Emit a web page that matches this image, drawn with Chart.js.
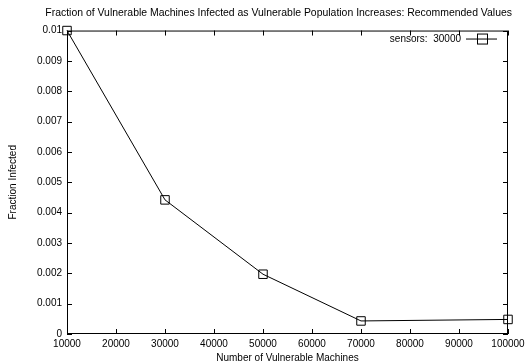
<!DOCTYPE html>
<html><head><meta charset="utf-8">
<script src="https://cdn.jsdelivr.net/npm/chart.js@4/dist/chart.umd.min.js"></script>
<style>html,body{margin:0;padding:0;background:#fff}#c{display:block}</style>
</head><body>
<canvas id="c" width="526" height="364"></canvas>
<script>
const machines = [10000, 30000, 50000, 70000, 100000];
const fractionInfected = [0.01, 0.00442, 0.00197, 0.00043, 0.00048];
const seriesLabel = 'sensors:  30000';
const titleText = 'Fraction of Vulnerable Machines Infected as Vulnerable Population Increases: Recommended Values';
const xTitle = 'Number of Vulnerable Machines';
const yTitle = 'Fraction Infected';

const FONT = 'Liberation Sans, Arial, Helvetica, sans-serif';

const gnuplotFrame = {
  id: 'gnuplotFrame',
  afterDatasetsDraw(chart) {
    const {ctx, chartArea: a, scales: {x, y}} = chart;
    ctx.save();
    ctx.strokeStyle = '#000';
    ctx.lineWidth = 1;
    ctx.strokeRect(a.left + 0.5, a.top + 0.5, a.right - a.left - 1, a.bottom - a.top - 1);
    const L = 5;
    ctx.beginPath();
    x.ticks.forEach(t => {
      const px = Math.round(x.getPixelForValue(t.value)) + 0.5;
      ctx.moveTo(px, a.bottom); ctx.lineTo(px, a.bottom - L);
      ctx.moveTo(px, a.top); ctx.lineTo(px, a.top + L);
    });
    y.ticks.forEach(t => {
      const py = Math.round(y.getPixelForValue(t.value)) + 0.5;
      ctx.moveTo(a.left, py); ctx.lineTo(a.left + L, py);
      ctx.moveTo(a.right, py); ctx.lineTo(a.right - L, py);
    });
    ctx.stroke();
    // legend
    const ly = a.top + 8.5;
    const lx2 = a.right - 11, lx1 = lx2 - 31;
    ctx.font = '10px ' + FONT;
    ctx.fillStyle = '#000';
    ctx.textAlign = 'right';
    ctx.textBaseline = 'middle';
    ctx.fillText(seriesLabel, lx1 - 5, ly);
    ctx.beginPath();
    ctx.moveTo(lx1, ly); ctx.lineTo(lx2, ly);
    ctx.stroke();
    const cx = Math.round((lx1 + lx2) / 2);
    ctx.strokeRect(cx - 5 + 0.5, ly - 5, 10, 10);
    ctx.restore();
  }
};

new Chart(document.getElementById('c'), {
  type: 'line',
  data: {
    labels: machines,
    datasets: [{
      label: seriesLabel,
      data: machines.map((m, i) => ({x: m, y: fractionInfected[i]})),
      borderColor: '#000',
      borderWidth: 1,
      backgroundColor: 'rgba(0,0,0,0)',
      pointStyle: 'rect',
      pointRadius: 6,
      pointBorderColor: '#000',
      pointBorderWidth: 1,
      pointBackgroundColor: 'rgba(0,0,0,0)',
      tension: 0,
      clip: false
    }]
  },
  options: {
    responsive: false,
    animation: false,
    devicePixelRatio: 1,
    layout: {padding: {left: 7, right: 14, top: 0, bottom: 0}},
    plugins: {
      legend: {display: false},
      tooltip: {enabled: false},
      title: {
        display: true,
        fullSize: true,
        align: 'end',
        text: titleText,
        color: '#000',
        font: {family: FONT, size: 10.45, weight: 'normal'},
        padding: {top: 7, bottom: 11}
      }
    },
    scales: {
      x: {
        type: 'linear',
        min: 10000, max: 100000,
        grid: {display: false, drawTicks: false},
        border: {display: false},
        ticks: {stepSize: 10000, color: '#000', font: {family: FONT, size: 10}, padding: 4, maxRotation: 0,
          callback: v => String(v)},
        title: {display: true, text: xTitle, color: '#000', font: {family: FONT, size: 10}, padding: {top: 3, bottom: 0}},
        afterFit: s => { s.height = 30; s.paddingRight = 18; s.paddingLeft = 0; }
      },
      y: {
        min: 0, max: 0.01,
        grid: {display: false, drawTicks: false},
        border: {display: false},
        ticks: {stepSize: 0.001, color: '#000', font: {family: FONT, size: 10}, padding: 5,
          callback: v => String(+v.toFixed(4))},
        title: {display: true, text: yTitle, color: '#000', font: {family: FONT, size: 10}, padding: {top: 0, bottom: 14}},
        afterFit: s => { s.width = 60; }
      }
    }
  },
  plugins: [gnuplotFrame]
});
</script>
</body></html>
